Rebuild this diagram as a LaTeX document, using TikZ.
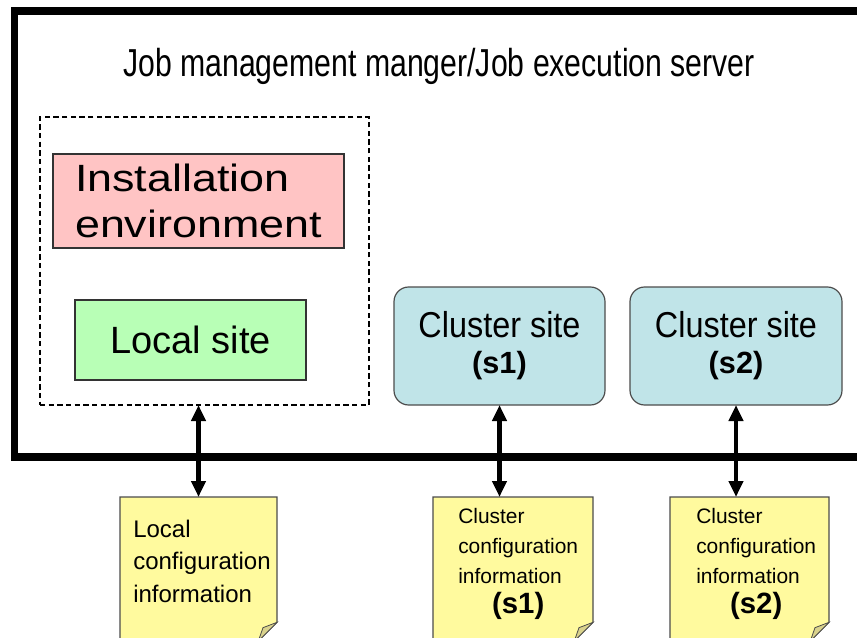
\documentclass[tikz,border=0pt]{standalone}
\usepackage{fontspec}
\setmainfont{Liberation Sans}
\usetikzlibrary{arrows.meta,calc}
\definecolor{pinkfill}{HTML}{FFC4C4}
\definecolor{greenfill}{HTML}{B8FFB6}
\definecolor{bluefill}{HTML}{C0E4E8}
\definecolor{notefill}{HTML}{FFFA9E}
\definecolor{foldfill}{HTML}{D9D28C}
\begin{document}
\begin{tikzpicture}[x=0.75pt,y=-0.75pt,
  frame/.style={draw=black,line width=5.5pt,inner sep=0pt,outer sep=0pt},
  dashbox/.style={draw=black,line width=0.8pt,dash pattern=on 4pt off 2.5pt,inner sep=0pt,outer sep=0pt},
  sqbox/.style={draw=black!80,line width=1.1pt,inner sep=0pt,outer sep=0pt,align=left},
  clbox/.style={draw=black!70,line width=0.9pt,rounded corners=11pt,fill=bluefill,inner sep=0pt,outer sep=0pt,align=center},
  notebox/.style={inner sep=0pt,outer sep=0pt,minimum height=108pt},
  notetext/.style={inner sep=0pt,anchor=north west},
  noteline/.style={draw=black!70,line width=0.8pt,fill=notefill},
  foldline/.style={draw=black!70,line width=0.6pt,fill=foldfill},
  dbl/.style={line width=3.4pt,{Triangle[length=12pt,width=10.5pt]}-{Triangle[length=12pt,width=10.5pt]}}
]
\useasboundingbox (0,0) rectangle (857,638);
\clip (0,0) rectangle (857,638);

% outer server frame
\node[frame,minimum width=679.1pt,minimum height=334.5pt] (srv) at (467.25,234) {};
\node[anchor=base,inner sep=0pt,font=\fontsize{29.25}{35}\selectfont] (title) at (439,77)
  {\scalebox{0.775}[1]{Job management manger/Job execution server}};

% dashed group
\node[dashbox,minimum width=246.75pt,minimum height=216pt] (dash) at (204.5,261) {};
\node[sqbox,fill=pinkfill,minimum width=218.25pt,minimum height=70.5pt,font=\fontsize{28.5}{34.5}\selectfont] (inst) at (198.5,201)
  {\scalebox{1.18}[1]{Installation}\\\scalebox{1.18}[1]{environment}};
\node[sqbox,fill=greenfill,minimum width=173.25pt,minimum height=60pt,font=\fontsize{28.5}{34}\selectfont] (local) at (190.5,340)
  {Local site};

% cluster sites
\node[clbox,minimum width=158.25pt,minimum height=88.5pt] (c1) at (499.5,346)
  {{\fontsize{27}{29}\selectfont\scalebox{0.9}[1]{Cluster site}}\\[9pt]{\fontsize{23}{25}\selectfont\bfseries (s1)}};
\node[clbox,minimum width=159pt,minimum height=88.5pt] (c2) at (736,346)
  {{\fontsize{27}{29}\selectfont\scalebox{0.9}[1]{Cluster site}}\\[9pt]{\fontsize{23}{25}\selectfont\bfseries (s2)}};

% notes
\node[notebox,minimum width=117.75pt] (n0) at (198.5,569) {};
\node[notebox,minimum width=120pt] (n1) at (513,569) {};
\node[notebox,minimum width=119.25pt] (n2) at (749.5,569) {};
\foreach \n in {n0,n1,n2}{
  \path[noteline] (\n.north west) -- (\n.north east) -- ([yshift=14pt]\n.south east)
    -- ([xshift=-14pt]\n.south east) -- (\n.south west) -- cycle;
  \path[foldline] ([yshift=14pt]\n.south east) -- ([xshift=-14pt]\n.south east)
    -- ([xshift=-10.5pt,yshift=10pt]\n.south east) -- cycle;
}

\node[notetext,font=\fontsize{18}{24.4}\selectfont] (t0) at (133,514)
  {\begin{tabular}{@{}l@{}}Local\\configuration\\information\end{tabular}};
\node[notetext,font=\fontsize{15.7}{22.5}\selectfont] (t1) at (458,502)
  {\begin{tabular}{@{}l@{}}Cluster\\configuration\\information\\\multicolumn{1}{@{}c@{}}{\fontsize{22}{22.5}\selectfont\bfseries (s1)}\end{tabular}};
\node[notetext,font=\fontsize{15.7}{22.5}\selectfont] (t2) at (696,502)
  {\begin{tabular}{@{}l@{}}Cluster\\configuration\\information\\\multicolumn{1}{@{}c@{}}{\fontsize{22}{22.5}\selectfont\bfseries (s2)}\end{tabular}};

% connectors
\draw[dbl] (n0.north |- dash.south) -- (n0.north);
\draw[dbl] (c1.south) -- (c1.south |- n1.north);
\draw[dbl] (c2.south) -- (c2.south |- n2.north);
\end{tikzpicture}
\end{document}
